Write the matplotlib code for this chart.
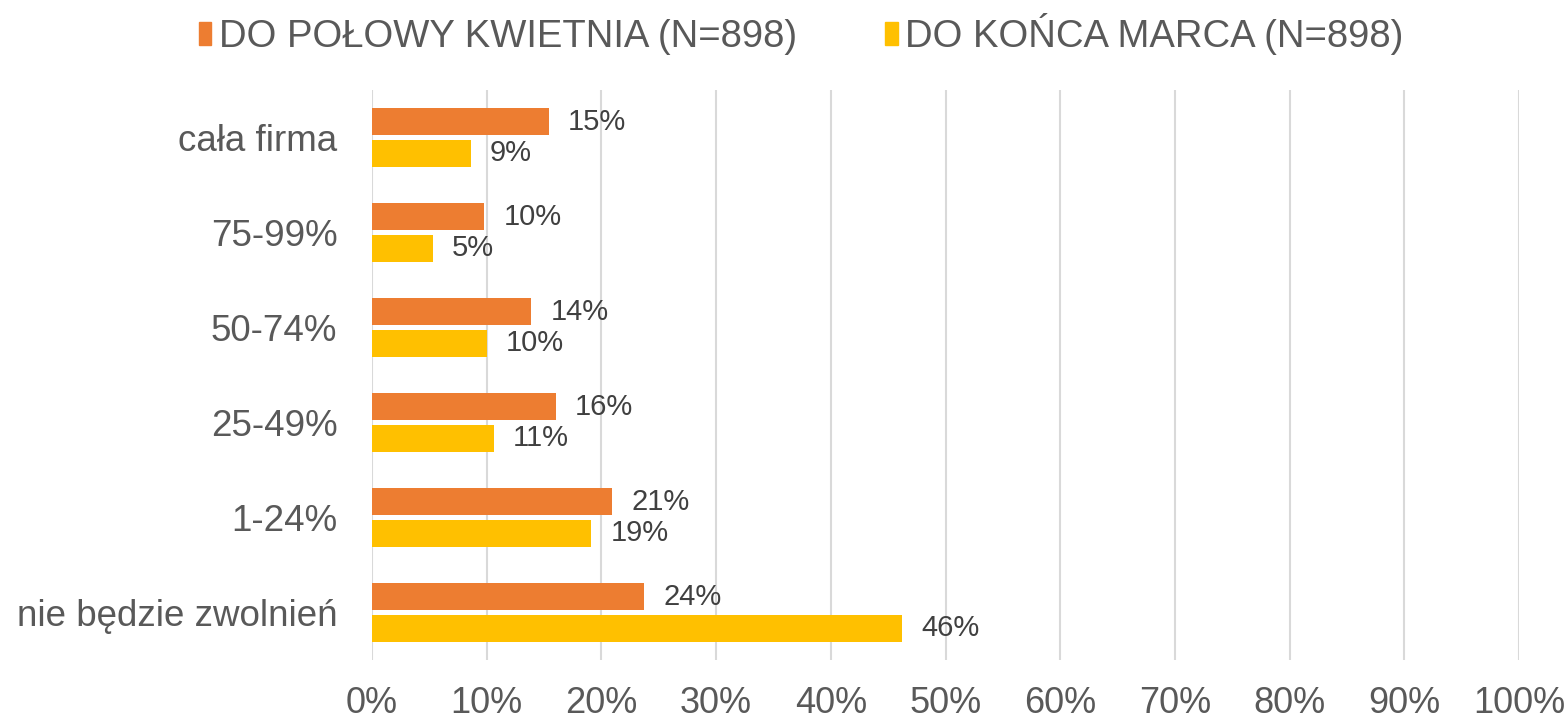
import matplotlib
matplotlib.use("Agg")
import matplotlib.pyplot as plt
from matplotlib.patches import Patch
import numpy as np

# Data
categories = ["cała firma", "75-99%", "50-74%", "25-49%", "1-24%", "nie będzie zwolnień"]
kwiecien = [15.4, 9.8, 13.9, 16.0, 20.95, 23.7]
marzec = [8.6, 5.3, 10.0, 10.6, 19.1, 46.2]
kwiecien_labels = ["15%", "10%", "14%", "16%", "21%", "24%"]
marzec_labels = ["9%", "5%", "10%", "11%", "19%", "46%"]
series_names = ["DO POŁOWY KWIETNIA (N=898)", "DO KOŃCA MARCA (N=898)"]
x_ticks = list(range(0, 101, 10))

# Styles
ORANGE = "#ED7D31"
YELLOW = "#FFC000"
TICK_COLOUR = "#595959"
LABEL_COLOUR = "#404040"
GRID_COLOUR = "#D9D9D9"

plt.rcParams["font.family"] = ["Liberation Sans", "DejaVu Sans"]

fig = plt.figure(figsize=(15.68, 7.2), dpi=100)
ax = fig.add_axes([372 / 1568, 60 / 720, (1519 - 372) / 1568, 570 / 720])

y = np.arange(len(categories))
h = 0.28
off = 0.168
ax.barh(y - off, kwiecien, height=h, color=ORANGE, zorder=3)
ax.barh(y + off, marzec, height=h, color=YELLOW, zorder=3)

# Data labels
for i in range(len(categories)):
    ax.annotate(kwiecien_labels[i], (kwiecien[i], y[i] - off), xytext=(14, 0),
                textcoords="offset points", va="center", ha="left",
                fontsize=21, color=LABEL_COLOUR)
    ax.annotate(marzec_labels[i], (marzec[i], y[i] + off), xytext=(14, 0),
                textcoords="offset points", va="center", ha="left",
                fontsize=21, color=LABEL_COLOUR)

ax.set_xlim(0, 100)
ax.set_ylim(len(categories) - 0.5, -0.5)
ax.set_xticks(x_ticks)
ax.set_xticklabels([f"{t}%" for t in x_ticks], fontsize=26, color=TICK_COLOUR)
ax.set_yticks(y)
ax.set_yticklabels(categories, fontsize=26.5, color=TICK_COLOUR)
ax.tick_params(axis="x", length=0, pad=19)
ax.tick_params(axis="y", length=0, pad=25)
ax.grid(axis="x", color=GRID_COLOUR, linewidth=1.5, zorder=0)
for s in ax.spines.values():
    s.set_visible(False)

handles = [Patch(color=ORANGE), Patch(color=YELLOW)]
leg = fig.legend(handles, series_names, loc="upper center", bbox_to_anchor=(0.511, 1.03),
                 ncol=2, frameon=False, fontsize=27.5, handlelength=0.33, handleheight=0.55,
                 handletextpad=0.2, columnspacing=2.3)
for t in leg.get_texts():
    t.set_color(TICK_COLOUR)

fig.savefig("out.png", dpi=100)
